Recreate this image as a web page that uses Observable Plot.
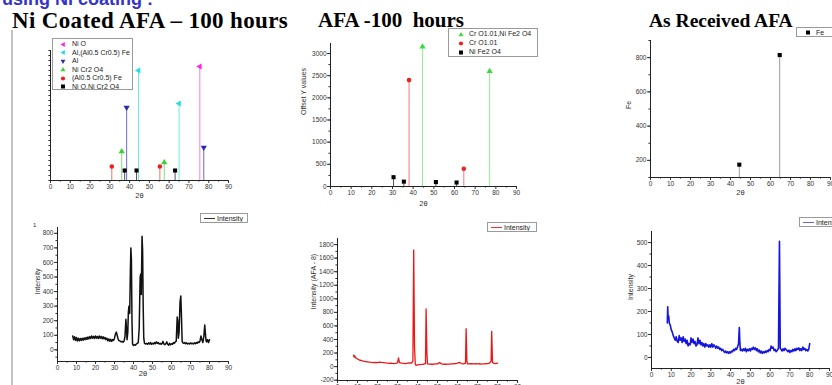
<!DOCTYPE html>
<html><head><meta charset="utf-8">
<script src="https://cdn.jsdelivr.net/npm/d3@7"></script>
<script src="https://cdn.jsdelivr.net/npm/@observablehq/plot@0.6"></script>
<style>
body{margin:0;background:#fff;width:832px;height:385px;overflow:hidden;position:relative;font-family:"Liberation Sans",Arial,sans-serif;}
.title{position:absolute;font-family:"Liberation Serif","Times New Roman",serif;font-weight:bold;font-size:22px;line-height:22px;white-space:pre;color:#000;}
.leg{position:absolute;border:1px solid #9a9a9a;background:#fff;font-size:7px;color:#222;box-sizing:border-box;overflow:hidden;white-space:nowrap;}
.row{position:absolute;left:0;height:8px;line-height:8px;}
</style></head><body>
<div class="title" style="left:2px;top:-10px;font-family:'Liberation Sans',Arial,sans-serif;font-size:18px;line-height:18px;color:#3333cc;">using Ni coating :</div>
<div class="title" style="left:12px;top:9px;font-size:23px;line-height:23px;letter-spacing:0.35px;">Ni Coated AFA – 100 hours</div>
<div class="title" style="left:318px;top:10px;font-size:21px;line-height:21px;">AFA -100  hours</div>
<div class="title" style="left:649px;top:11px;font-size:19.5px;line-height:19.5px;">As Received AFA</div>
<div style="position:absolute;left:11px;top:30px;width:2px;height:360px;background:#c4c4c4;"></div>
<div style="position:absolute;left:33px;top:222px;font-size:6px;color:#333;">1</div>
<script>
const twoTheta = "2θ";

// ---- Ni coated AFA, 100 h : reference phase sticks ----
const niPhases = ["Ni O", "Al,(Al0.5 Cr0.5) Fe", "Al", "Ni Cr2 O4", "(Al0.5 Cr0.5) Fe", "Ni O,Ni Cr2 O4"];
const niPeakAngle  = [31, 36, 37.5, 38.5, 43.5, 44.5, 55.3, 57.5, 63, 65, 75.5, 77.5];
const niPeakHeight = [14, 29, 10, 73, 10, 110, 14, 18, 10, 77, 114, 33];
const niPeakPhase  = ["(Al0.5 Cr0.5) Fe", "Ni Cr2 O4", "Ni O,Ni Cr2 O4", "Al", "Ni O,Ni Cr2 O4", "Al,(Al0.5 Cr0.5) Fe",
                      "(Al0.5 Cr0.5) Fe", "Ni Cr2 O4", "Ni O,Ni Cr2 O4", "Al,(Al0.5 Cr0.5) Fe", "Ni O", "Al"];

// ---- Ni coated AFA, 100 h : measured scan [2θ, intensity] ----
const niScan = [[8,95],[8.5,70],[9,90],[9.5,65],[10,85],[10.5,60],[11,80],[11.5,62],[12,78],[12.5,65],[13,80],[13.5,66],
[14,82],[14.5,70],[15,85],[15.5,72],[16,88],[16.5,75],[17,92],[17.5,78],[18,95],[18.5,80],[19,93],[19.5,78],[20,95],
[20.5,80],[21,92],[21.5,78],[22,95],[22.5,80],[23,92],[23.5,76],[24,90],[24.5,75],[25,85],[25.5,70],[26,80],[26.5,62],
[27,75],[27.5,60],[28,72],[28.5,58],[29,70],[29.5,65],[30,80],[30.5,110],[31,122],[31.5,95],[32,70],[32.5,62],[33,60],
[33.5,55],[34,58],[34.5,52],[35,60],[35.5,90],[36,210],[36.3,150],[36.6,70],[37,120],[37.3,260],[37.6,300],[38,250],
[38.3,500],[38.6,700],[38.9,620],[39.2,200],[39.5,40],[40,30],[40.5,35],[41,32],[41.5,40],[42,45],[42.5,50],[43,150],
[43.5,500],[43.8,520],[44.1,380],[44.5,780],[44.8,680],[45.1,300],[45.4,80],[45.8,45],[46.5,40],[47,45],[47.5,38],
[48,48],[48.5,40],[49,50],[49.5,38],[50,45],[50.5,40],[51,50],[51.5,42],[52,55],[52.5,45],[53,50],[53.5,40],[54,45],
[54.5,38],[55,42],[55.5,58],[56,40],[56.5,35],[57,42],[57.5,55],[58,38],[58.5,32],[59,45],[59.5,35],[60,42],[60.5,38],
[61,50],[61.5,45],[62,55],[62.5,60],[63,225],[63.3,200],[63.6,80],[64,120],[64.5,330],[64.9,370],[65.2,250],[65.6,60],
[66,48],[66.5,45],[67,50],[67.5,42],[68,48],[68.5,40],[69,45],[69.5,40],[70,48],[70.5,42],[71,45],[71.5,40],[72,48],
[72.5,42],[73,50],[73.5,45],[74,55],[74.5,50],[75,60],[75.5,95],[76,70],[76.5,50],[77,90],[77.5,170],[77.8,120],
[78.2,60],[78.5,55],[79,70],[79.5,50],[80,70]];

// ---- AFA, 100 h : reference phase sticks ----
const afaPhases = ["Cr O1.01,Ni Fe2 O4", "Cr O1.01", "Ni Fe2 O4"];
const afaPeakAngle  = [30.5, 35.5, 38, 44.5, 51, 61, 64.5, 77];
const afaPeakHeight = [210, 110, 2400, 3150, 100, 90, 400, 2600];
const afaPeakPhase  = ["Ni Fe2 O4", "Ni Fe2 O4", "Cr O1.01", "Cr O1.01,Ni Fe2 O4", "Ni Fe2 O4", "Ni Fe2 O4", "Cr O1.01", "Cr O1.01,Ni Fe2 O4"];

// ---- AFA, 100 h : measured scan ----
const afaScan = [[8,170],[8.3,140],[8.6,160],[9,130],[9.5,125],[10,110],[10.5,105],[11,95],[12,90],[13,80],[14,75],
[15,70],[16,65],[17,62],[18,60],[19,62],[20,58],[21,65],[22,62],[23,60],[24,55],[25,52],[26,48],[27,50],[28,45],[29,48],
[30,55],[30.5,130],[31,60],[32,50],[33,48],[34,45],[35,50],[36,55],[37,50],[37.7,80],[38.1,1720],[38.5,300],[38.9,30],
[39.3,20],[40,25],[41,30],[42,32],[43,35],[44,45],[44.3,850],[44.7,200],[45,40],[46,38],[47,35],[48,35],[49,40],[50,40],
[51,60],[52,40],[53,35],[54,35],[55,38],[56,38],[57,40],[58,42],[59,45],[60,50],[61,62],[62,45],[63,40],[64,50],
[64.3,560],[64.7,80],[65,40],[66,42],[67,45],[68,40],[69,45],[70,40],[71,42],[72,38],[73,40],[74,42],[75,45],[76,50],
[76.8,80],[77.1,520],[77.5,60],[78,50],[79,45],[80,50]];

// ---- As received AFA : reference sticks ----
const feLabel = "Fe";
const fePeakAngle  = [44.4, 64.6];
const fePeakHeight = [175, 815];

// ---- As received AFA : measured scan ----
const recScan = [[8,150],[8.2,220],[8.4,170],[8.7,180],[9,150],[9.5,140],[10,120],[10.5,110],[11,95],[11.5,85],[12,75],
[12.5,90],[13,70],[13.5,65],[14,95],[14.5,75],[15,85],[15.5,65],[16,90],[16.5,70],[17,80],[17.5,60],[18,75],[18.5,50],
[19,60],[19.5,55],[20,85],[20.5,65],[21,80],[21.5,60],[22,70],[22.5,50],[23,55],[23.5,85],[24,60],[24.5,75],[25,55],
[25.5,65],[26,50],[26.5,60],[27,45],[27.5,60],[28,50],[28.5,55],[29,45],[29.5,55],[30,45],[30.5,60],[31,45],[31.5,55],
[32,50],[32.5,40],[33,50],[33.5,40],[34,45],[34.5,35],[35,40],[35.5,30],[36,35],[36.5,28],[37,22],[37.5,28],[38,20],
[38.5,25],[39,18],[39.5,25],[40,20],[40.5,28],[41,25],[41.5,35],[42,30],[42.5,40],[43,35],[43.5,45],[44,60],[44.4,130],
[44.7,60],[45,30],[45.5,35],[46,28],[46.5,38],[47,30],[47.5,40],[48,25],[48.5,35],[49,30],[49.5,38],[50,28],[50.5,40],
[51,35],[51.5,45],[52,35],[52.5,42],[53,30],[53.5,38],[54,25],[54.5,32],[55,20],[55.5,28],[56,18],[56.5,25],[57,20],
[57.5,28],[58,22],[58.5,30],[59,25],[59.5,35],[60,30],[60.5,50],[61,40],[61.5,45],[62,30],[62.5,35],[63,25],[63.5,30],
[64.2,40],[64.7,505],[65.1,40],[65.5,35],[66,28],[66.5,38],[67,30],[67.5,40],[68,35],[68.5,30],[69,25],[69.5,32],
[70,22],[70.5,30],[71,25],[71.5,35],[72,28],[72.5,38],[73,30],[73.5,40],[74,35],[74.5,42],[75,30],[75.5,38],[76,30],
[76.5,45],[77,35],[77.5,40],[78,30],[78.5,35],[79,28],[79.5,35],[80,60]];

// ---------- styles ----------
const niColor = {"Ni O":"#ff22ee","Al,(Al0.5 Cr0.5) Fe":"#22dede","Al":"#2a2aa8","Ni Cr2 O4":"#33d433","(Al0.5 Cr0.5) Fe":"#ee2020","Ni O,Ni Cr2 O4":"#000"};
const niStem  = {"Ni O":"#f080f0","Al,(Al0.5 Cr0.5) Fe":"#70e8e8","Al":"#6a6ad0","Ni Cr2 O4":"#80e080","(Al0.5 Cr0.5) Fe":"#f07070","Ni O,Ni Cr2 O4":"#555"};
const niSym   = {"Ni O":["triangle",-90],"Al,(Al0.5 Cr0.5) Fe":["triangle",-90],"Al":["triangle",180],"Ni Cr2 O4":["triangle",0],"(Al0.5 Cr0.5) Fe":["circle",0],"Ni O,Ni Cr2 O4":["square",0]};
const afaColor = {"Cr O1.01,Ni Fe2 O4":"#33dd33","Cr O1.01":"#f02020","Ni Fe2 O4":"#000"};
const afaStem  = {"Cr O1.01,Ni Fe2 O4":"#90ec90","Cr O1.01":"#f47a7a","Ni Fe2 O4":"#555"};
const afaSym   = {"Cr O1.01,Ni Fe2 O4":["triangle",0],"Cr O1.01":["circle",0],"Ni Fe2 O4":["square",0]};

const baseStyle = {fontFamily:"Liberation Sans, Arial, sans-serif", fontSize:"6.5px", color:"#333", background:"transparent", overflow:"visible"};

function place(svg, left, top){
  svg.style.position = "absolute"; svg.style.left = left+"px"; svg.style.top = top+"px";
  document.body.appendChild(svg);
}
function xAxes(){
  return [
    Plot.axisX({ticks:d3.range(0,91,10), tickSize:3, tickPadding:1, fontSize:6.5, label:null}),
    Plot.axisX({ticks:d3.range(5,91,10), tickSize:1.6, tickFormat:()=>"", label:null})
  ];
}
function yAxes(major, minor, labels=true){
  const out = [Plot.axisY({ticks:minor, tickSize:1.6, tickFormat:()=>"", label:null})];
  out.push(Plot.axisY({ticks:major, tickSize:3, tickPadding:1, fontSize:6.5, label:null, tickFormat: labels ? (d=>String(d)) : (()=>"")}));
  return out;
}
function frameLines(xmin, ymin){
  return [Plot.ruleX([xmin],{stroke:"#222", strokeWidth:1}), Plot.ruleY([ymin],{stroke:"#222", strokeWidth:1})];
}
function sticks(rows, phases, colorMap, stemMap, symMap, y0){
  const marks = [];
  for (const ph of phases){
    const sub = rows.filter(d => d.p === ph);
    marks.push(Plot.ruleX(sub, {x:"a", y1:y0, y2:"h", stroke:stemMap[ph], strokeWidth:1}));
  }
  for (const ph of phases){
    const sub = rows.filter(d => d.p === ph);
    marks.push(Plot.dot(sub, {x:"a", y:"h", symbol:symMap[ph][0], rotate:symMap[ph][1], fill:colorMap[ph], stroke:"none", r:2.3}));
  }
  return marks;
}
const xLabel = (dy) => Plot.text([twoTheta], {frameAnchor:"bottom", dy, fontSize:7.5, fill:"#333"});
const yLabel = (txt, dx) => Plot.text([txt], {frameAnchor:"left", dx, rotate:-90, fontSize:7, fill:"#333"});
const noLabels = {x:{domain:[0,90], label:null}};

// ----- panel 1 top -----
const niRows = niPeakAngle.map((a,i) => ({a, h:niPeakHeight[i], p:niPeakPhase[i]}));
place(Plot.plot({
  width:260, height:170, marginLeft:50, marginRight:32, marginTop:10, marginBottom:30,
  x:{domain:[0,90], label:null}, y:{domain:[0,130], label:null}, style:baseStyle,
  marks:[
    ...sticks(niRows, niPhases, niColor, niStem, niSym, 0),
    ...xAxes(), ...yAxes([], d3.range(0,131,5), false),
    ...frameLines(0,0), xLabel(17)
  ]
}), 0, 40);

// ----- panel 1 bottom -----
place(Plot.plot({
  width:260, height:163, marginLeft:57, marginRight:32, marginTop:5, marginBottom:24,
  x:{domain:[0,90], label:null}, y:{domain:[-80,840], label:null}, style:baseStyle,
  marks:[
    Plot.line(niScan, {x:d=>d[0], y:d=>d[1], stroke:"#111", strokeWidth:1.5}),
    ...xAxes(), ...yAxes(d3.range(0,801,100), d3.range(-50,841,50)),
    ...frameLines(0,-80), xLabel(14), yLabel("Intensity", -20)
  ]
}), 0, 222);

// ----- panel 2 top -----
const afaRows = afaPeakAngle.map((a,i) => ({a, h:afaPeakHeight[i], p:afaPeakPhase[i]}));
place(Plot.plot({
  width:280, height:183, marginLeft:70, marginRight:24, marginTop:10, marginBottom:30,
  x:{domain:[0,90], label:null}, y:{domain:[0,3225], label:null}, style:baseStyle,
  marks:[
    ...sticks(afaRows, afaPhases, afaColor, afaStem, afaSym, 0),
    ...xAxes(), ...yAxes(d3.range(0,3001,500), d3.range(0,3201,250)),
    ...frameLines(0,0), xLabel(19), yLabel("Offset Y values", -27)
  ]
}), 260, 33);

// ----- panel 2 bottom -----
place(Plot.plot({
  width:280, height:172, marginLeft:77, marginRight:23, marginTop:10, marginBottom:20,
  x:{domain:[0,90], label:null}, y:{domain:[-205,1890], label:null}, style:baseStyle,
  marks:[
    Plot.line(afaScan, {x:d=>d[0], y:d=>d[1], stroke:"#ee1515", strokeWidth:1.3}),
    ...xAxes(), ...yAxes(d3.range(-200,1801,200), d3.range(-200,1801,100)),
    ...frameLines(0,-205), yLabel("Intensity (AFA - 8)", -24)
  ]
}), 260, 228);

// ----- panel 3 top -----
const feRows = fePeakAngle.map((a,i) => ({a, h:fePeakHeight[i], p:feLabel}));
place(Plot.plot({
  width:272, height:177, marginLeft:90, marginRight:2, marginTop:10, marginBottom:30,
  x:{domain:[0,90], label:null}, y:{domain:[100,900], label:null}, style:baseStyle,
  marks:[
    ...sticks(feRows, [feLabel], {"Fe":"#000"}, {"Fe":"#9a9a9a"}, {"Fe":["square",0]}, 100),
    ...xAxes(), ...yAxes(d3.range(200,801,200), d3.range(100,901,100)),
    ...frameLines(0,100), xLabel(17), yLabel("Fe", -22)
  ]
}), 560, 30);

// ----- panel 3 bottom -----
place(Plot.plot({
  width:272, height:167, marginLeft:91, marginRight:3, marginTop:10, marginBottom:20,
  x:{domain:[0,90], label:null}, y:{domain:[-48,548], label:null}, style:baseStyle,
  marks:[
    Plot.line(recScan, {x:d=>d[0], y:d=>d[1], stroke:"#1515dd", strokeWidth:1.6}),
    ...xAxes(), ...yAxes(d3.range(0,501,100), d3.range(0,541,50)),
    ...frameLines(0,-48), xLabel(15), yLabel("Intensity", -21)
  ]
}), 560, 221);

// ---------- legends (HTML) ----------
function symbolSvg(kind, rot, color){
  let shape;
  if (kind === "square") shape = `<rect x="2" y="1.5" width="4" height="4" fill="${color}"/>`;
  else if (kind === "circle") shape = `<circle cx="4" cy="3.5" r="2.1" fill="${color}"/>`;
  else shape = `<polygon points="4,1 6.4,5.3 1.6,5.3" fill="${color}" transform="rotate(${rot} 4 3.5)"/>`;
  return `<svg width="8" height="7" style="position:absolute;top:0.5px;left:0">${shape}</svg>`;
}
function legend(left, top, w, h, entries, symX, textX, rowY0, rowStep){
  const box = document.createElement("div");
  box.className = "leg";
  Object.assign(box.style, {left:left+"px", top:top+"px", width:w+"px", height:h+"px"});
  entries.forEach((e,i) => {
    const row = document.createElement("div");
    row.className = "row";
    row.style.top = (rowY0 + i*rowStep) + "px";
    row.style.left = symX + "px";
    row.innerHTML = symbolSvg(e.kind, e.rot, e.color) + `<span style="position:absolute;left:${textX-symX}px;top:0">${e.label}</span>`;
    box.appendChild(row);
  });
  document.body.appendChild(box);
}
legend(52, 38, 81, 52, niPhases.map(p => ({label:p, kind:niSym[p][0], rot:niSym[p][1], color:niColor[p]})), 6, 19, 1, 8.5);
legend(448, 28, 90, 29, afaPhases.map(p => ({label:p, kind:afaSym[p][0], rot:afaSym[p][1], color:afaColor[p]})), 8, 20, 1, 9);
legend(796, 27, 45, 10, [{label:feLabel, kind:"square", rot:0, color:"#000"}], 7, 19, 0.5, 9);

function lineLegend(left, top, w, color){
  const box = document.createElement("div");
  box.className = "leg";
  Object.assign(box.style, {left:left+"px", top:top+"px", width:w+"px", height:"10px"});
  box.innerHTML = `<div style="position:absolute;left:3px;top:4px;width:11px;height:1px;background:${color}"></div><span style="position:absolute;left:16px;top:0.5px;line-height:8px;">Intensity</span>`;
  document.body.appendChild(box);
}
lineLegend(200, 213, 48, "#333");
lineLegend(487, 222, 50, "#ee3333");
lineLegend(799, 217, 45, "#6666dd");
</script>
</body></html>
